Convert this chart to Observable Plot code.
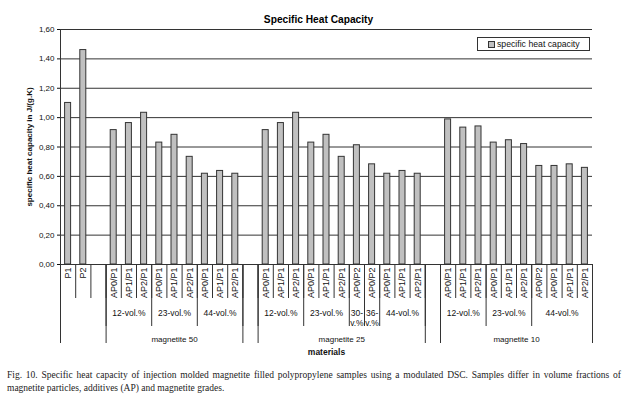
<!DOCTYPE html>
<html>
<head>
<meta charset="utf-8">
<script src="https://cdn.jsdelivr.net/npm/d3@7"></script>
<script src="https://cdn.jsdelivr.net/npm/@observablehq/plot@0.6"></script>
<style>
  body { margin: 0; background: #fff; }
  #wrap { position: relative; width: 635px; height: 397px; font-family: "Liberation Sans", Arial, sans-serif; background: #fff; }
  #legend { position: absolute; left: 477px; top: 37px; width: 113px; height: 14px; box-sizing: border-box;
            border: 1px solid #333; display: flex; align-items: center; padding-left: 10px;
            font-size: 8.7px; color: #111; white-space: nowrap; }
  #legend .sw { width: 5px; height: 5px; background: #c0c0c0; border: 1px solid #333; margin-right: 2px; flex: none; }
  #caption { position: absolute; left: 7px; top: 369px; width: 614px;
             font-family: "Liberation Serif", "Times New Roman", serif; font-size: 9.5px; line-height: 13px; color: #222; }
  #caption .l1 { text-align: justify; text-align-last: justify; white-space: nowrap; }
</style>
</head>
<body>
<div id="wrap">
  <div id="chart"></div>
  <div id="legend"></div>
  <div id="caption"></div>
</div>
<script>
// ---------- data ----------
const title = "Specific Heat Capacity";
const yTitle = "specific heat capacity in J/(g.K)";
const xTitle = "materials";
const seriesName = "specific heat capacity";
const captionLines = [
  "Fig. 10. Specific heat capacity of injection molded magnetite filled polypropylene samples using a modulated DSC. Samples differ in volume fractions of",
  "magnetite particles, additives (AP) and magnetite grades."
];

const yTicks = [0, 0.2, 0.4, 0.6, 0.8, 1.0, 1.2, 1.4, 1.6];

// level 1: one entry per category slot
const slotLabels = [
  "P1", "P2", "",
  "AP0/P1", "AP1/P1", "AP2/P1", "AP0/P1", "AP1/P1", "AP2/P1", "AP0/P1", "AP1/P1", "AP2/P1",
  "",
  "AP0/P1", "AP1/P1", "AP2/P1", "AP0/P1", "AP1/P1", "AP2/P1", "AP0/P2", "AP0/P2", "AP0/P1", "AP1/P1", "AP2/P1",
  "",
  "AP0/P1", "AP1/P1", "AP2/P1", "AP0/P1", "AP1/P1", "AP2/P1", "AP0/P2", "AP0/P1", "AP1/P1", "AP2/P1"
];
const values = [
  1.10, 1.46, null,
  0.915, 0.963, 1.033, 0.830, 0.883, 0.733, 0.618, 0.637, 0.618,
  null,
  0.915, 0.963, 1.033, 0.830, 0.883, 0.733, 0.812, 0.682, 0.618, 0.637, 0.618,
  null,
  0.988, 0.932, 0.940, 0.830, 0.846, 0.820, 0.671, 0.671, 0.682, 0.658
];

// level 2: volume fraction groups (label, number of slots)
const volLabels = ["", "12-vol.%", "23-vol.%", "44-vol.%", "", "12-vol.%", "23-vol.%", "30-\nv.%", "36-\nv.%", "44-vol.%", "", "12-vol.%", "23-vol.%", "44-vol.%"];
const volSpans  = [3, 3, 3, 3, 1, 3, 3, 1, 1, 3, 1, 3, 3, 4];

// level 3: magnetite grades
const sectionLabels = ["", "magnetite 50", "", "magnetite 25", "", "magnetite 10"];
const sectionSpans  = [3, 9, 1, 11, 1, 10];

// ---------- build ----------
const slots = slotLabels.map((label, i) => ({i, label, value: values[i]}));
function spans(labels, sizes) {
  let s = 0;
  return labels.map((label, k) => { const o = {label, start: s, end: s + sizes[k]}; s += sizes[k]; return o; });
}
const vol = spans(volLabels, volSpans);
const sec = spans(sectionLabels, sectionSpans);
const b1 = d3.range(slotLabels.length + 1);
const b2 = [0, ...vol.map(d => d.end)];
const b3 = [0, ...sec.map(d => d.end)];
const ink = "#333";

const chart = Plot.plot({
  width: 635,
  height: 366,
  marginLeft: 60,
  marginRight: 43,
  marginTop: 29,
  marginBottom: 102,
  style: {fontFamily: "Liberation Sans, Arial, sans-serif", fontSize: "8px", color: "#111", background: "white", overflow: "visible"},
  x: {domain: [0, slotLabels.length], axis: null},
  y: {domain: [0, 1.6], ticks: yTicks, tickFormat: d => d.toFixed(2).replace(".", ","), tickSize: 3, tickPadding: 3, label: null},
  marks: [
    Plot.ruleY(yTicks, {y: d => d, stroke: ink, strokeWidth: 1}),
    Plot.ruleX([0], {x: d => d, stroke: ink}),
    Plot.rectY(slots.filter(d => d.value != null), {
      x1: "i", x2: d => d.i + 1, y: "value",
      fill: "#c0c0c0", stroke: ink, strokeWidth: 1, insetLeft: 4.6, insetRight: 4.6
    }),
    // multi-level category axis separators
    Plot.ruleX(b1, {x: d => d, y1: 0, y2: 0, stroke: ink, insetBottom: -34}),
    Plot.ruleX(b2, {x: d => d, y1: 0, y2: 0, stroke: ink, insetBottom: -62}),
    Plot.ruleX(b3, {x: d => d, y1: 0, y2: 0, stroke: ink, insetBottom: -79}),
    // level 1 labels
    Plot.text(slots.filter(d => d.label), {
      x: d => d.i + 0.5, y: 0, text: "label", rotate: -90,
      textAnchor: "end", lineAnchor: "middle", dy: 3, fontSize: 9
    }),
    // level 2 labels
    Plot.text(vol.filter(d => d.label), {
      x: d => (d.start + d.end) / 2, y: 0, text: "label",
      lineAnchor: "top", dy: 45, fontSize: 8.5, lineHeight: 1.15
    }),
    // level 3 labels
    Plot.text(sec.filter(d => d.label), {
      x: d => (d.start + d.end) / 2, y: 0, text: "label",
      lineAnchor: "middle", dy: 75, fontSize: 8
    }),
    // titles
    Plot.text([xTitle], {text: d => d, frameAnchor: "bottom", dy: 90, fontWeight: "bold", fontSize: 8.5}),
    Plot.text([yTitle], {text: d => d, frameAnchor: "left", textAnchor: "middle", lineAnchor: "middle", rotate: -90, dx: -31, fontWeight: "bold", fontSize: 8}),
    Plot.text([title], {text: d => d, frameAnchor: "top", dy: -14, dx: -8, fontWeight: "bold", fontSize: 10.2, fill: "#000"})
  ]
});
document.getElementById("chart").appendChild(chart);

// legend
const lg = document.getElementById("legend");
const sw = document.createElement("span"); sw.className = "sw"; lg.appendChild(sw);
const lt = document.createElement("span"); lt.textContent = seriesName; lg.appendChild(lt);

// caption
const cap = document.getElementById("caption");
captionLines.forEach((t, k) => {
  const d = document.createElement("div");
  if (k === 0) d.className = "l1";
  d.textContent = t;
  cap.appendChild(d);
});
</script>
</body>
</html>
